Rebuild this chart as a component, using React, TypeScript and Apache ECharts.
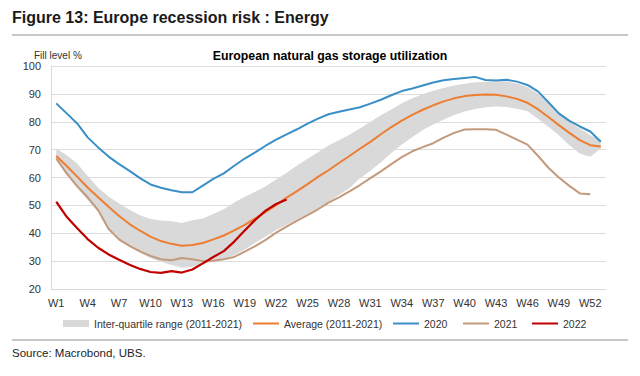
import React, { useEffect, useRef } from "react";
import * as echarts from "echarts";

const weeks: string[] = Array.from({ length: 53 }, (_, i) => "W" + (i + 1));

const yTicks = { min: 20, max: 100, interval: 10 };

const iqrUpper: number[] = [
  70.4, 68, 65, 60.5, 56.3, 53.2, 50.7, 48.4, 46.5, 45.1,
  44.6, 44.3, 43.7, 44.7, 45.3, 46.9, 48.6, 51, 53.1, 54.9,
  56.9, 59.3, 61.7, 64.3, 66.7, 69.1, 71.5, 73.4, 75.3, 77.6,
  80, 82.3, 84.4, 86.6, 88.4, 89.9, 91.1, 92.1, 93, 93.6,
  94.2, 94.3, 94.5, 94.5, 93.7, 92.5, 90.1, 86.5, 82.9, 79.9,
  77.6, 75.2, 73.4,
];

const iqrLower: number[] = [
  66.2, 60.9, 56.1, 51.9, 47.7, 41.5, 37.2, 35.2, 33, 31,
  29.8, 28.6, 27.6, 28, 29, 29.8, 30.7, 32.2, 34.2, 36.6,
  38.8, 41.2, 43, 45, 46.9, 48.9, 51.3, 53.7, 56.1, 59.7,
  62.4, 65.5, 68.8, 71.8, 74.5, 77, 79, 80.8, 82.4, 83.7,
  84.6, 85.2, 85.5, 85.3, 84.7, 83.8, 81.1, 78.2, 75.2, 71.6,
  68.6, 67.4, 70.4,
];

const average: number[] = [
  67.7, 64.1, 60.3, 56.4, 52.9, 49.5, 46.2, 43.3, 40.9, 38.8,
  37.2, 36.2, 35.5, 35.8, 36.5, 37.8, 39.2, 41, 43, 45.3,
  47.7, 50.1, 52.8, 55.1, 57.6, 60.2, 62.6, 65.2, 67.7, 70.3,
  72.8, 75.5, 78.1, 80.4, 82.5, 84.3, 85.9, 87.3, 88.4, 89.2,
  89.6, 89.8, 89.7, 89.1, 88.2, 86.8, 84.5, 81.7, 78.8, 76,
  73.4, 71.6, 71.1,
];

const y2020: number[] = [
  86.6, 83, 79.4, 74.4, 70.8, 67.5, 64.8, 62.4, 59.8, 57.5,
  56.3, 55.4, 54.7, 54.7, 57.1, 59.5, 61.5, 64.2, 66.8, 69,
  71.4, 73.6, 75.5, 77.3, 79.3, 81.1, 82.7, 83.6, 84.4, 85.2,
  86.5, 87.9, 89.5, 91, 91.9, 93, 94.1, 94.9, 95.3, 95.7,
  96.1, 95, 94.8, 95.1, 94.4, 93.2, 90.9, 87, 83, 80.3,
  78.3, 76.5, 72.8,
];

const y2021: number[] = [
  66.8, 61.5, 56.9, 52.9, 48.3, 41.5, 37.8, 35.5, 33.5, 31.9,
  30.7, 30.3, 31.1, 30.7, 30, 30.1, 30.7, 31.5, 33.4, 35.4,
  37.6, 40.2, 42.4, 44.5, 46.5, 48.6, 51, 52.9, 55, 57.3,
  59.8, 62.2, 64.8, 67.3, 69.4, 70.9, 72.3, 74.3, 76, 77.2,
  77.3, 77.3, 77.1, 75.4, 73.6, 71.8, 67.8, 63.5, 60, 57,
  54.3, 54,
];

const y2022: number[] = [
  51.3, 45.9, 41.8, 37.9, 34.8, 32.4, 30.5, 28.7, 27.2, 26.1,
  25.8, 26.4, 25.9, 27, 29.2, 31.5, 33.6, 37, 41, 44.8,
  48.1, 50.5, 52.1,
];

const NAMES = {
  iqr: "Inter-quartile range (2011-2021)",
  avg: "Average (2011-2021)",
  s2020: "2020",
  s2021: "2021",
  s2022: "2022",
};

const COLORS = {
  iqr: "#d9d9d9",
  avg: "#ed7d31",
  s2020: "#3a8fc7",
  s2021: "#c39a7c",
  s2022: "#c00000",
};

const FONT = "'Liberation Sans', Arial, sans-serif";

export default function App() {
  const ref = useRef<HTMLDivElement>(null);

  useEffect(() => {
    document.body.style.margin = "0";
    if (!ref.current) return;
    const chart = echarts.init(ref.current, undefined, { renderer: "svg" });
    const bandWidth = iqrUpper.map((u, i) => +(u - iqrLower[i]).toFixed(2));

    const line = (name: string, data: number[], color: string, width = 2) => ({
      name,
      type: "line",
      data,
      symbol: "none",
      showSymbol: false,
      smooth: false,
      lineStyle: { color, width },
      itemStyle: { color },
    });

    const legendItem = (name: string, left: number, color: string, h: number) => ({
      top: 318,
      left,
      padding: 0,
      itemWidth: 26,
      itemHeight: h,
      selectedMode: false,
      textStyle: { fontSize: 10.5, color: "#333", fontFamily: FONT },
      data: [{ name, icon: "rect", itemStyle: { color } }],
    });

    chart.setOption({
      animation: false,
      textStyle: { fontFamily: FONT },
      title: [
        {
          text: "Figure 13: Europe recession risk : Energy",
          left: 12,
          top: 9,
          padding: 0,
          textStyle: { fontSize: 16, fontWeight: "bold", color: "#1a1a1a", fontFamily: FONT },
        },
        {
          text: "European natural gas storage utilization",
          left: 330,
          textAlign: "center",
          top: 50,
          padding: 0,
          textStyle: { fontSize: 12.3, fontWeight: "bold", color: "#000", fontFamily: FONT },
        },
      ],
      graphic: [
        { type: "line", shape: { x1: 12, y1: 35, x2: 628, y2: 35 }, style: { stroke: "#c8c8c8", lineWidth: 2 } },
        { type: "line", shape: { x1: 12, y1: 340, x2: 628, y2: 340 }, style: { stroke: "#c8c8c8", lineWidth: 2 } },
        {
          type: "text",
          left: 12,
          top: 347,
          style: { text: "Source: Macrobond, UBS.", fontSize: 11.5, fill: "#222", fontFamily: FONT },
        },
        {
          type: "text",
          left: 34,
          top: 50,
          style: { text: "Fill level %", fontSize: 10, fill: "#333", fontFamily: FONT },
        },
      ],
      legend: [
        legendItem(NAMES.iqr, 63, COLORS.iqr, 7),
        legendItem(NAMES.avg, 253, COLORS.avg, 2),
        legendItem(NAMES.s2020, 393, COLORS.s2020, 2),
        legendItem(NAMES.s2021, 463, COLORS.s2021, 2),
        legendItem(NAMES.s2022, 532, COLORS.s2022, 2),
      ],
      grid: { left: 51, right: 34, top: 66, bottom: 87, containLabel: false },
      xAxis: {
        type: "category",
        data: weeks,
        boundaryGap: true,
        axisLine: { lineStyle: { color: "#d9d9d9" } },
        axisTick: { show: false },
        axisLabel: { interval: 2, color: "#333", fontSize: 11, margin: 8, fontFamily: FONT },
        splitLine: { show: false },
      },
      yAxis: {
        type: "value",
        min: yTicks.min,
        max: yTicks.max,
        interval: yTicks.interval,
        axisLine: { show: true, lineStyle: { color: "#d9d9d9" } },
        axisTick: { show: false },
        axisLabel: { color: "#333", fontSize: 11, margin: 10, fontFamily: FONT },
        splitLine: { lineStyle: { color: "#dcdcdc", width: 1 } },
      },
      series: [
        {
          name: "iqr-base",
          type: "line",
          stack: "band",
          data: iqrLower,
          symbol: "none",
          lineStyle: { opacity: 0, width: 0 },
          silent: true,
        },
        {
          name: NAMES.iqr,
          type: "line",
          stack: "band",
          data: bandWidth,
          symbol: "none",
          lineStyle: { opacity: 0, width: 0 },
          itemStyle: { color: COLORS.iqr },
          areaStyle: { color: COLORS.iqr, opacity: 1 },
          silent: true,
        },
        line(NAMES.avg, average, COLORS.avg, 2),
        line(NAMES.s2020, y2020, COLORS.s2020, 2),
        line(NAMES.s2021, y2021, COLORS.s2021, 2),
        line(NAMES.s2022, y2022, COLORS.s2022, 2.2),
      ],
    });

    return () => chart.dispose();
  }, []);

  return <div ref={ref} style={{ width: 640, height: 376 }} />;
}
